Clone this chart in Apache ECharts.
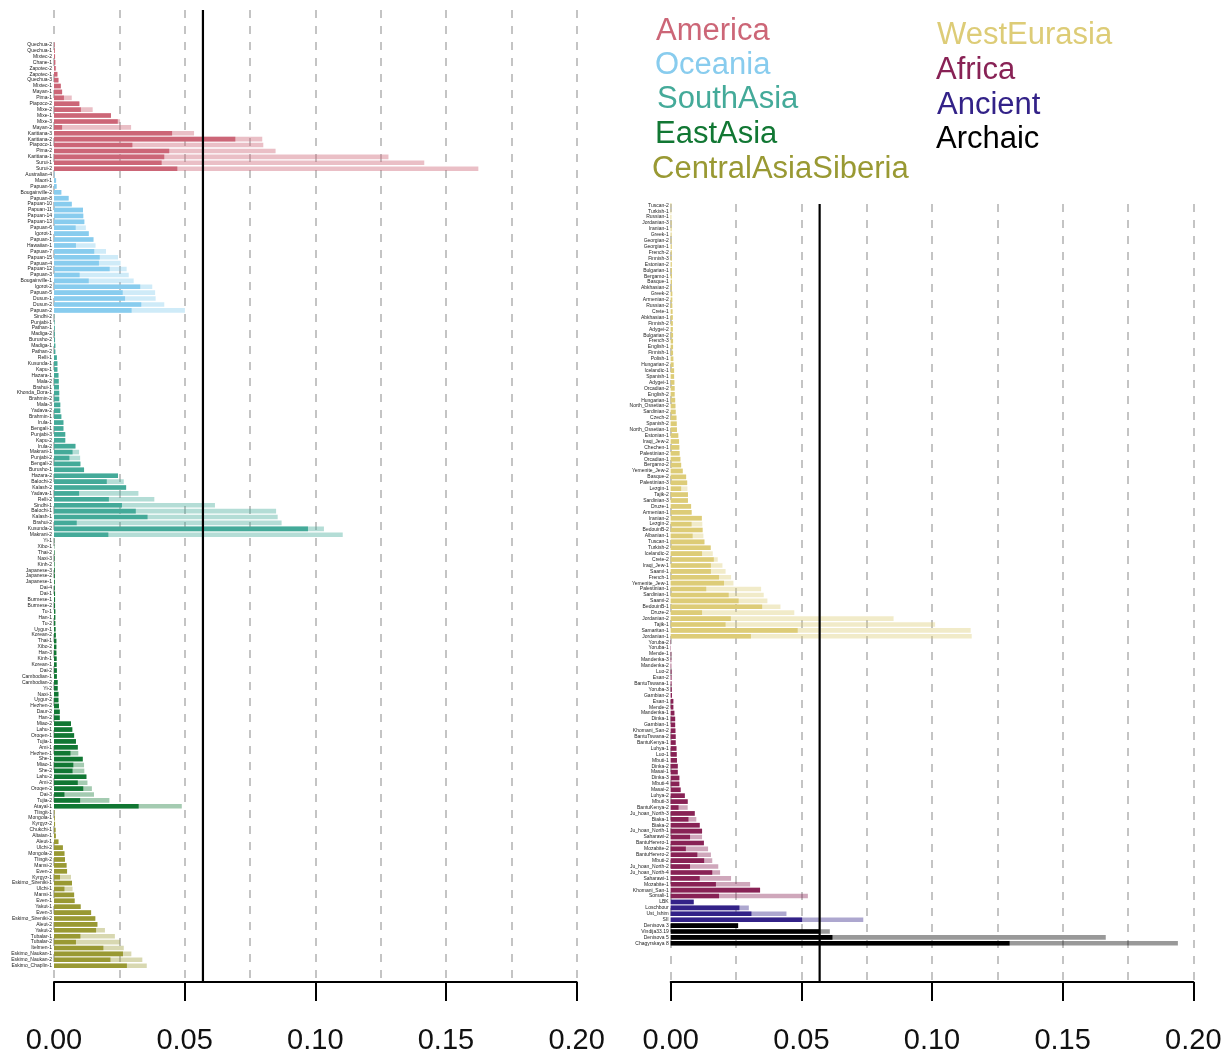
<!DOCTYPE html>
<html>
<head>
<meta charset="utf-8">
<script src="https://cdn.jsdelivr.net/npm/echarts@6/dist/echarts.min.js"></script>
<style>
  html, body { margin: 0; padding: 0; background: #ffffff; }
  #chart { width: 1232px; height: 1057px; }
</style>
</head>
<body>
<div id="chart"></div>
<script>
// ---- Samples and their two statistics (dark = first estimate, light = second estimate) ----
const americaNames = ["Quechua-2","Quechua-1","Mixtec-2","Chane-1","Zapotec-2","Zapotec-1","Quechua-3","Mixtec-1","Mayan-1","Pima-1","Piapoco-2","Mixe-2","Mixe-1","Mixe-3","Mayan-2","Karitiana-3","Karitiana-2","Piapoco-1","Pima-2","Karitiana-1","Surui-1","Surui-2"];
const americaDark  = [0.0002,0.0003,0.0004,0.0005,0.0006,0.0013,0.0017,0.0026,0.0031,0.0038,0.0097,0.0103,0.0218,0.0244,0.0031,0.0452,0.0694,0.0300,0.0441,0.0422,0.0412,0.0472];
const americaLight = [0.0002,0.0003,0.0004,0.0005,0.0008,0.0013,0.0017,0.0026,0.0031,0.0068,0.0097,0.0148,0.0218,0.0253,0.0295,0.0536,0.0797,0.0801,0.0848,0.1280,0.1417,0.1624];

const oceaniaNames = ["Australian-4","Maori-1","Papuan-9","Bougainville-2","Papuan-8","Papuan-10","Papuan-11","Papuan-14","Papuan-13","Papuan-6","Igorot-1","Papuan-1","Hawaiian-1","Papuan-7","Papuan-15","Papuan-4","Papuan-12","Papuan-3","Bougainville-1","Igorot-2","Papuan-5","Dusun-1","Dusun-2","Papuan-2"];
const oceaniaDark  = [0.0002,0.0008,0.0010,0.0028,0.0056,0.0068,0.0111,0.0112,0.0116,0.0083,0.0133,0.0151,0.0084,0.0154,0.0175,0.0172,0.0213,0.0098,0.0133,0.0330,0.0263,0.0272,0.0334,0.0297];
const oceaniaLight = [0.0002,0.0008,0.0010,0.0028,0.0056,0.0068,0.0111,0.0112,0.0116,0.0122,0.0133,0.0151,0.0159,0.0199,0.0245,0.0255,0.0278,0.0286,0.0305,0.0376,0.0387,0.0389,0.0422,0.0501];

const southAsiaNames = ["Sindhi-2","Punjabi-1","Pathan-1","Madiga-2","Burusho-2","Madiga-1","Pathan-2","Relli-1","Kusunda-1","Kapu-1","Hazara-1","Mala-2","Brahui-1","Khonda_Dora-1","Brahmin-2","Mala-3","Yadava-2","Brahmin-1","Irula-1","Bengali-1","Punjabi-3","Kapu-2","Irula-2","Makrani-1","Punjabi-2","Bengali-2","Burusho-1","Hazara-2","Balochi-2","Kalash-2","Yadava-1","Relli-2","Sindhi-1","Balochi-1","Kalash-1","Brahui-2","Kusunda-2","Makrani-2"];
const southAsiaDark  = [0.0001,0.0002,0.0003,0.0003,0.0004,0.0005,0.0005,0.0011,0.0013,0.0013,0.0017,0.0018,0.0019,0.0020,0.0020,0.0024,0.0024,0.0028,0.0036,0.0036,0.0043,0.0043,0.0082,0.0071,0.0059,0.0101,0.0115,0.0245,0.0202,0.0276,0.0096,0.0210,0.0260,0.0313,0.0358,0.0087,0.0972,0.0208];
const southAsiaLight = [0.0001,0.0002,0.0003,0.0003,0.0004,0.0005,0.0005,0.0011,0.0013,0.0013,0.0017,0.0018,0.0019,0.0020,0.0020,0.0024,0.0024,0.0028,0.0036,0.0036,0.0043,0.0043,0.0082,0.0096,0.0100,0.0101,0.0115,0.0245,0.0267,0.0276,0.0323,0.0384,0.0616,0.0850,0.0856,0.0871,0.1033,0.1105];

const eastAsiaNames = ["Yi-1","Xibo-1","Thai-2","Naxi-3","Kinh-2","Japanese-3","Japanese-2","Japanese-1","Dai-4","Dai-1","Burmese-1","Burmese-2","Tu-1","Han-1","Tu-2","Uygur-1","Korean-2","Thai-1","Xibo-2","Han-3","Kinh-1","Korean-1","Dai-2","Cambodian-1","Cambodian-2","Yi-2","Naxi-1","Uygur-2","Hezhen-2","Daur-2","Han-2","Miao-2","Lahu-1","Oroqen-1","Tujia-1","Ami-1","Hezhen-1","She-1","Miao-1","She-2","Lahu-2","Ami-2","Oroqen-2","Dai-3","Tujia-2","Atayal-1"];
const eastAsiaDark  = [0.0001,0.0001,0.0002,0.0002,0.0002,0.0003,0.0003,0.0003,0.0003,0.0004,0.0004,0.0004,0.0005,0.0005,0.0005,0.0006,0.0007,0.0009,0.0009,0.0009,0.0010,0.0010,0.0011,0.0011,0.0014,0.0014,0.0017,0.0017,0.0019,0.0022,0.0022,0.0065,0.0070,0.0077,0.0084,0.0091,0.0063,0.0110,0.0074,0.0071,0.0124,0.0091,0.0112,0.0040,0.0100,0.0324];
const eastAsiaLight = [0.0001,0.0001,0.0002,0.0002,0.0002,0.0003,0.0003,0.0003,0.0003,0.0004,0.0004,0.0004,0.0005,0.0005,0.0005,0.0006,0.0007,0.0009,0.0009,0.0009,0.0010,0.0010,0.0011,0.0011,0.0014,0.0014,0.0017,0.0017,0.0019,0.0022,0.0022,0.0065,0.0070,0.0077,0.0084,0.0091,0.0093,0.0110,0.0115,0.0116,0.0124,0.0128,0.0145,0.0153,0.0212,0.0489];

const centralAsiaSiberiaNames = ["Tlingit-1","Mongola-1","Kyrgyz-2","Chukchi-1","Altaian-1","Aleut-1","Ulchi-2","Mongola-2","Tlingit-2","Mansi-2","Even-2","Kyrgyz-1","Eskimo_Sireniki-1","Ulchi-1","Mansi-1","Even-1","Yakut-1","Even-3","Eskimo_Sireniki-2","Aleut-2","Yakut-2","Tubalar-1","Tubalar-2","Itelmen-1","Eskimo_Naukan-1","Eskimo_Naukan-2","Eskimo_Chaplin-1"];
const centralAsiaSiberiaDark  = [0.0002,0.0003,0.0004,0.0006,0.0007,0.0017,0.0034,0.0040,0.0042,0.0048,0.0050,0.0023,0.0069,0.0040,0.0077,0.0079,0.0102,0.0142,0.0158,0.0166,0.0161,0.0101,0.0084,0.0189,0.0264,0.0216,0.0279];
const centralAsiaSiberiaLight = [0.0002,0.0003,0.0004,0.0006,0.0007,0.0017,0.0034,0.0040,0.0042,0.0048,0.0050,0.0065,0.0069,0.0071,0.0077,0.0079,0.0102,0.0142,0.0158,0.0166,0.0195,0.0233,0.0253,0.0267,0.0296,0.0338,0.0355];

const westEurasiaNames = ["Tuscan-2","Turkish-1","Russian-1","Jordanian-3","Iranian-1","Greek-1","Georgian-2","Georgian-1","French-2","Finnish-3","Estonian-2","Bulgarian-1","Bergamo-1","Basque-1","Abkhasian-2","Greek-2","Armenian-2","Russian-2","Crete-1","Abkhasian-1","Finnish-2","Adygei-2","Bulgarian-2","French-3","English-1","Finnish-1","Polish-1","Hungarian-2","Icelandic-1","Spanish-1","Adygei-1","Orcadian-2","English-2","Hungarian-1","North_Ossetian-2","Sardinian-2","Czech-2","Spanish-2","North_Ossetian-1","Estonian-1","Iraqi_Jew-2","Chechen-1","Palestinian-2","Orcadian-1","Bergamo-2","Yemenite_Jew-2","Basque-2","Palestinian-3","Lezgin-1","Tajik-2","Sardinian-3","Druze-1","Armenian-1","Iranian-2","Lezgin-2","BedouinB-2","Albanian-1","Tuscan-1","Turkish-2","Icelandic-2","Crete-2","Iraqi_Jew-1","Saami-1","French-1","Yemenite_Jew-1","Palestinian-1","Sardinian-1","Saami-2","BedouinB-1","Druze-2","Jordanian-2","Tajik-1","Samaritan-1","Jordanian-1"];
const westEurasiaDark  = [0.0002,0.0002,0.0002,0.0003,0.0003,0.0003,0.0003,0.0004,0.0004,0.0004,0.0004,0.0005,0.0005,0.0005,0.0005,0.0006,0.0006,0.0006,0.0007,0.0008,0.0008,0.0008,0.0009,0.0009,0.0009,0.0009,0.0010,0.0011,0.0013,0.0013,0.0014,0.0015,0.0015,0.0017,0.0018,0.0019,0.0022,0.0023,0.0024,0.0029,0.0032,0.0033,0.0034,0.0037,0.0040,0.0046,0.0059,0.0063,0.0040,0.0066,0.0066,0.0078,0.0080,0.0119,0.0080,0.0122,0.0084,0.0129,0.0153,0.0120,0.0165,0.0154,0.0154,0.0185,0.0204,0.0136,0.0222,0.0260,0.0350,0.0120,0.0230,0.0210,0.0486,0.0307];
const westEurasiaLight = [0.0002,0.0002,0.0002,0.0003,0.0003,0.0003,0.0003,0.0004,0.0004,0.0004,0.0004,0.0005,0.0005,0.0005,0.0005,0.0006,0.0006,0.0006,0.0007,0.0008,0.0008,0.0008,0.0009,0.0009,0.0009,0.0009,0.0010,0.0011,0.0013,0.0013,0.0014,0.0015,0.0015,0.0017,0.0018,0.0019,0.0022,0.0023,0.0024,0.0029,0.0032,0.0033,0.0034,0.0037,0.0040,0.0046,0.0059,0.0063,0.0064,0.0066,0.0066,0.0078,0.0080,0.0119,0.0121,0.0122,0.0125,0.0129,0.0153,0.0161,0.0180,0.0198,0.0210,0.0231,0.0240,0.0346,0.0356,0.0370,0.0420,0.0473,0.0853,0.1012,0.1148,0.1152];

const africaNames = ["Yoruba-2","Yoruba-1","Mende-1","Mandenka-3","Mandenka-2","Luo-2","Esan-2","BantuTswana-1","Yoruba-3","Gambian-2","Esan-1","Mende-2","Mandenka-1","Dinka-1","Gambian-1","Khomani_San-2","BantuTswana-2","BantuKenya-1","Luhya-1","Luo-1","Mbuti-1","Dinka-2","Masai-1","Dinka-3","Mbuti-4","Masai-2","Luhya-2","Mbuti-3","BantuKenya-2","Ju_hoan_North-3","Biaka-1","Biaka-2","Ju_hoan_North-1","Saharawi-2","BantuHerero-1","Mozabite-2","BantuHerero-2","Mbuti-2","Ju_hoan_North-2","Ju_hoan_North-4","Saharawi-1","Mozabite-1","Khomani_San-1","Somali-1"];
const africaDark  = [0.0001,0.0001,0.0002,0.0002,0.0002,0.0003,0.0003,0.0003,0.0004,0.0005,0.0010,0.0010,0.0014,0.0017,0.0017,0.0018,0.0019,0.0019,0.0022,0.0023,0.0024,0.0027,0.0027,0.0033,0.0033,0.0038,0.0054,0.0065,0.0030,0.0092,0.0068,0.0111,0.0120,0.0074,0.0127,0.0058,0.0102,0.0128,0.0074,0.0159,0.0111,0.0173,0.0342,0.0185];
const africaLight = [0.0001,0.0001,0.0002,0.0002,0.0002,0.0003,0.0003,0.0003,0.0004,0.0005,0.0010,0.0010,0.0014,0.0017,0.0017,0.0018,0.0019,0.0019,0.0022,0.0023,0.0024,0.0027,0.0027,0.0033,0.0033,0.0038,0.0054,0.0065,0.0065,0.0092,0.0098,0.0111,0.0120,0.0120,0.0127,0.0143,0.0154,0.0159,0.0182,0.0189,0.0231,0.0304,0.0342,0.0525];

const ancientNames = ["LBK","Loschbour","Ust_Ishim","SII"];
const ancientDark  = [0.0088,0.0263,0.0309,0.0503];
const ancientLight = [0.0088,0.0299,0.0443,0.0737];

const archaicNames = ["Denisova 3","Vindija33.19","Denisova 5","Chagyrskaya 8"];
const archaicDark  = [0.0258,0.0571,0.0619,0.1297];
const archaicLight = [0.0258,0.0609,0.1665,0.1941];

// Reference line drawn across both panels
const threshold = 0.057;

// Axis tick labels
const tickValues = [0, 0.05, 0.10, 0.15, 0.20];

// Group colours: [solid, faded]
const palette = {
  America:            ['#CC6677', 'rgba(204,102,119,0.42)'],
  Oceania:            ['#88CCEE', 'rgba(136,204,238,0.40)'],
  SouthAsia:          ['#44AA99', 'rgba(68,170,153,0.40)'],
  EastAsia:           ['#117733', 'rgba(17,119,51,0.38)'],
  CentralAsiaSiberia: ['#999933', 'rgba(153,153,51,0.38)'],
  WestEurasia:        ['#DDCC77', 'rgba(221,204,119,0.40)'],
  Africa:             ['#882255', 'rgba(136,34,85,0.40)'],
  Ancient:            ['#332288', 'rgba(51,34,136,0.40)'],
  Archaic:            ['#000000', 'rgba(0,0,0,0.40)']
};

const leftGroups = [
  ['America', americaNames, americaDark, americaLight],
  ['Oceania', oceaniaNames, oceaniaDark, oceaniaLight],
  ['SouthAsia', southAsiaNames, southAsiaDark, southAsiaLight],
  ['EastAsia', eastAsiaNames, eastAsiaDark, eastAsiaLight],
  ['CentralAsiaSiberia', centralAsiaSiberiaNames, centralAsiaSiberiaDark, centralAsiaSiberiaLight]
];
const rightGroups = [
  ['WestEurasia', westEurasiaNames, westEurasiaDark, westEurasiaLight],
  ['Africa', africaNames, africaDark, africaLight],
  ['Ancient', ancientNames, ancientDark, ancientLight],
  ['Archaic', archaicNames, archaicDark, archaicLight]
];

function buildPanel(groups) {
  const names = [], dark = [], light = [];
  groups.forEach(([key, n, d, l]) => {
    const [solid, faded] = palette[key];
    n.forEach((name, i) => {
      names.push(name);
      dark.push({ value: d[i], itemStyle: { color: solid } });
      light.push({ value: l[i], itemStyle: { color: faded } });
    });
  });
  return { names, dark, light };
}

const left = buildPanel(leftGroups);
const right = buildPanel(rightGroups);

// Layout
const ROW = 5.904;
const X0L = 54, X0R = 670.7, PW = 522.6;
const leftTop = 44.7 - ROW / 2;
const rightTop = 205.3 - ROW / 2;
const AXIS_Y = 982;
const FONT = '"Liberation Sans", Arial, Helvetica, sans-serif';

const gridLineStyle = { color: '#c4c4c4', width: 2, type: [8, 8] };

function hiddenValueAxis(gridIndex) {
  return { type: 'value', gridIndex, min: 0, max: 0.2, show: false };
}
function tickAxis(gridIndex) {
  return {
    type: 'value', gridIndex, min: 0, max: 0.2, interval: 0.05, position: 'bottom',
    axisLine: { show: true, lineStyle: { color: '#000', width: 2 } },
    axisTick: { show: true, inside: false, length: 19, lineStyle: { color: '#000', width: 2 } },
    splitLine: { show: false },
    axisLabel: {
      show: true, margin: 44, fontSize: 29, color: '#111', fontFamily: FONT,
      formatter: v => {
        const t = tickValues.find(x => Math.abs(x - v) < 1e-9);
        return t === undefined ? '' : t.toFixed(2);
      }
    }
  };
}
function dashAxis(gridIndex) {
  return {
    type: 'value', gridIndex, min: 0, max: 0.2, interval: 0.025, position: 'top',
    axisLine: { show: false }, axisTick: { show: false }, axisLabel: { show: false },
    splitLine: { show: true, lineStyle: gridLineStyle }
  };
}
function categoryAxis(gridIndex, names) {
  return {
    type: 'category', gridIndex, data: names, inverse: true,
    axisLine: { show: false }, axisTick: { show: false }, splitLine: { show: false },
    axisLabel: { show: true, interval: 0, fontSize: 5, margin: 2, color: '#222', fontFamily: FONT }
  };
}

function barPair(gridIdx, panel) {
  return [
    {
      type: 'bar', xAxisIndex: gridIdx, yAxisIndex: gridIdx, data: panel.light,
      barGap: '-100%', barCategoryGap: '22%', silent: true, z: 2
    },
    {
      type: 'bar', xAxisIndex: gridIdx, yAxisIndex: gridIdx, data: panel.dark,
      barGap: '-100%', barCategoryGap: '22%', silent: true, z: 3
    }
  ];
}

function thresholdLine(xIdx, yIdx) {
  return {
    type: 'line', xAxisIndex: xIdx, yAxisIndex: yIdx, silent: true, z: 10,
    symbol: 'none', lineStyle: { color: '#000', width: 2.2 },
    data: [[threshold, 0], [threshold, 1]]
  };
}

const legendLeft = [
  ['America', 656, 30], ['Oceania', 655, 64], ['SouthAsia', 657, 98],
  ['EastAsia', 655, 133], ['CentralAsiaSiberia', 652, 168]
];
const legendRight = [
  ['WestEurasia', 937, 34], ['Africa', 936, 69], ['Ancient', 937, 104], ['Archaic', 936, 138]
];
const legendText = legendLeft.concat(legendRight).map(([name, x, y]) => ({
  type: 'text', left: x, top: y - 14,
  style: { text: name, fill: palette[name][0], fontSize: 31, fontFamily: FONT }
}));

const chart = echarts.init(document.getElementById('chart'), null, { renderer: 'canvas' });
chart.setOption({
  animation: false,
  backgroundColor: '#ffffff',
  grid: [
    { left: X0L, width: PW, top: leftTop, height: ROW * left.names.length },
    { left: X0R, width: PW, top: rightTop, height: ROW * right.names.length },
    { left: X0L, width: PW, top: 10, height: AXIS_Y - 10 },
    { left: X0R, width: PW, top: 204, height: AXIS_Y - 204 }
  ],
  xAxis: [
    hiddenValueAxis(0),
    hiddenValueAxis(1),
    tickAxis(2),
    tickAxis(3),
    dashAxis(2),
    dashAxis(3)
  ],
  yAxis: [
    categoryAxis(0, left.names),
    categoryAxis(1, right.names),
    { type: 'value', gridIndex: 2, min: 0, max: 1, show: false },
    { type: 'value', gridIndex: 3, min: 0, max: 1, show: false }
  ],
  series: [
    ...barPair(0, left),
    ...barPair(1, right),
    thresholdLine(2, 2),
    thresholdLine(3, 3)
  ],
  graphic: legendText
});
</script>
</body>
</html>
